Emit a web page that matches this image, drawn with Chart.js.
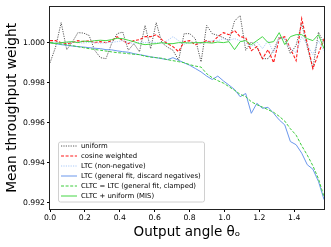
<!DOCTYPE html>
<html><head><meta charset="utf-8">
<script src="https://cdn.jsdelivr.net/npm/chart.js@4.4.1/dist/chart.umd.min.js"></script>
<style>html,body{margin:0;padding:0;background:#fff}canvas{display:block}</style>
</head><body>
<canvas id="c" width="331" height="247" style="width:331px;height:247px"></canvas>
<script>
const angles=[0,0.032,0.064,0.096,0.128,0.160,0.192,0.224,0.256,0.289,0.321,0.353,0.385,0.417,0.449,0.481,0.513,0.545,0.577,0.609,0.641,0.673,0.705,0.737,0.769,0.801,0.833,0.866,0.898,0.930,0.962,0.994,1.026,1.058,1.090,1.122,1.154,1.186,1.218,1.250,1.282,1.314,1.346,1.378,1.411,1.443,1.475,1.507,1.539,1.571];
const uniform=[0.99899,0.99978,1.0010,0.99965,1.00003,1.0005,1.00048,1.00036,0.99962,0.99925,0.9992,0.99995,1.00045,1.00053,0.99962,0.99995,0.99954,1.00086,0.9997,1.0010,1.0,0.99978,0.99962,0.99912,1.00045,1.00045,1.0002,0.99904,1.00086,1.00045,1.00036,1.00025,1.0001,1.00108,1.00136,0.99962,1.00003,0.99978,0.9992,0.9992,0.99962,1.00028,1.0002,0.99945,0.99987,1.00095,0.99978,0.99871,1.00053,0.99995];
const cosineWeighted=[1.0001,1.0001,1.0,0.99995,1.0,1.0001,1.00005,1.0001,1.0,1.00005,1.0,1.0001,1.0003,1.0001,0.99995,1.0001,1.00015,1.0003,1.0003,1.0004,1.00015,0.99995,0.9998,0.99955,1.00005,1.0001,0.9999,1.0,1.0001,1.0,1.0003,1.0005,1.0004,1.0006,1.0003,1.00025,0.9996,0.9998,0.9992,0.99965,0.9990,1.0002,1.0003,0.9997,0.9991,1.0012,0.99995,0.9987,0.99945,1.0002];
const ltcNonNeg=[1.0,1.00002,0.99998,1.0,1.00003,1.0,0.99998,1.00002,1.0,0.99997,1.0,1.00002,1.00005,1.0001,1.0,0.99996,1.00002,1.0,1.00004,1.0,0.99995,1.0001,1.0003,1.0001,0.99992,1.00002,1.0,0.99996,1.00005,1.0001,1.0001,1.0002,1.00012,1.0002,1.0001,1.0,0.9998,1.00005,0.9997,1.0001,0.9995,1.0002,1.0002,0.9997,0.9995,1.0003,0.9999,0.9994,1.0001,0.9996];
const ltcGeneral=[1.0,0.99995,0.9999,0.99987,0.99983,0.9998,0.99978,0.99975,0.99972,0.9997,0.99965,0.99964,0.99959,0.99955,0.99952,0.99945,0.9994,0.99935,0.99929,0.99925,0.9992,0.99915,0.99925,0.99912,0.99899,0.99887,0.99871,0.99854,0.99833,0.99816,0.99833,0.99809,0.99788,0.99766,0.9973,0.99746,0.99647,0.99697,0.99672,0.99677,0.99647,0.99614,0.99589,0.99506,0.9949,0.99448,0.9939,0.99368,0.99307,0.99216];
const cltcClamped=[1.0,0.99997,0.99993,0.9999,0.99985,0.9998,0.99975,0.9997,0.99966,0.99962,0.99958,0.99954,0.9995,0.99948,0.99945,0.99942,0.9994,0.99932,0.99928,0.99925,0.99922,0.99915,0.9991,0.99905,0.999,0.9989,0.99883,0.99878,0.99845,0.99825,0.9981,0.99798,0.9978,0.99762,0.99742,0.9973,0.99705,0.9969,0.99678,0.99665,0.99652,0.99632,0.99608,0.9957,0.99538,0.99485,0.99438,0.99385,0.9932,0.9923];
const cltcMis=[1.0,0.99995,1.0,1.00003,1.00005,1.0,1.00008,1.00005,1.0001,1.00012,1.0001,1.00015,1.00022,1.0002,1.00012,1.00005,0.99995,0.9999,0.99993,0.99995,1.0,0.99995,0.99995,1.0,1.0,0.99998,1.0,1.0,1.0,0.99998,1.00003,1.0,1.00005,0.99965,1.00005,1.0001,0.9999,1.0001,1.0003,1.0,1.00005,1.0005,0.9999,1.0003,1.0004,1.0004,1.0002,1.0001,1.0004,0.9997];
const seriesNames=["uniform","cosine weighted","LTC (non-negative)","LTC (general fit, discard negatives)","CLTC = LTC (general fit, clamped)","CLTC + uniform (MIS)"];
const yTicks=[0.992,0.994,0.996,0.998,1.000];
const xTicks=[0.0,0.2,0.4,0.6,0.8,1.0,1.2,1.4];

const seriesValues=[uniform,cosineWeighted,ltcNonNeg,ltcGeneral,cltcClamped,cltcMis];
const styles=[
 {c:'rgba(60,60,60,0.85)',d:[1.2,1.2],w:1},
 {c:'#ff1a1a',d:[3,1.6],w:1.1},
 {c:'#a9c9f7',d:[1.2,1.2],w:1},
 {c:'#6a97ec',d:[],w:1},
 {c:'#3ccc3c',d:[3,1.6],w:1},
 {c:'#45d645',d:[],w:1}
];
const datasets=seriesValues.map((vals,i)=>({
  label:seriesNames[i],
  data:vals.map((v,j)=>({x:angles[j],y:v})),
  borderColor:styles[i].c,borderDash:styles[i].d,borderWidth:styles[i].w,
  pointRadius:0,tension:0,fill:false,order:6-i
}));
const F='DejaVu Sans';
const framePlugin={id:'frame',afterDraw(ch){
  const a=ch.chartArea,ctx=ch.ctx;ctx.save();
  ctx.strokeStyle='#222';ctx.lineWidth=1;
  ctx.strokeRect(Math.round(a.left)-0.5,Math.round(a.top)-0.5,Math.round(a.right-a.left)+1,Math.round(a.bottom-a.top)+1);
  // legend
  const bx=58,by=141.5,bw=146,bh=60;
  ctx.fillStyle='rgba(255,255,255,0.85)';ctx.strokeStyle='#d0d0d0';ctx.lineWidth=1;
  ctx.beginPath();ctx.roundRect(bx+0.5,by+0.5,bw,bh,2);ctx.fill();ctx.stroke();
  ctx.font='6.9px "'+F+'"';ctx.textBaseline='middle';ctx.fillStyle='#000';
  seriesNames.forEach((n,i)=>{
    const y=by+4.5+i*10;
    ctx.strokeStyle=styles[i].c;ctx.lineWidth=styles[i].w;ctx.setLineDash(styles[i].d);
    ctx.beginPath();ctx.moveTo(61,y);ctx.lineTo(77,y);ctx.stroke();
    ctx.setLineDash([]);ctx.fillStyle='#000';ctx.fillText(n,81,y);
  });
  ctx.restore();
}};
new Chart(document.getElementById('c'),{
  type:'line',
  data:{datasets},
  options:{
    responsive:false,animation:false,devicePixelRatio:1,
    layout:{padding:{left:0,right:7,top:6,bottom:0}},
    plugins:{legend:{display:false},tooltip:{enabled:false}},
    scales:{
      x:{type:'linear',min:0,max:1.5708,
        afterBuildTicks:s=>{s.ticks=xTicks.map(v=>({value:v}));},
        afterFit:s=>{s.height=38;},
        ticks:{callback:v=>v.toFixed(1),font:{family:F,size:7.7},color:'#000',padding:1,maxRotation:0,autoSkip:false},
        grid:{drawOnChartArea:false,drawTicks:true,tickLength:3,color:'#000'},
        border:{display:false},
        title:{display:true,text:'Output angle θₒ',font:{family:F,size:13.5},color:'#000',padding:{top:0,bottom:6}}
      },
      y:{type:'linear',min:0.99169,max:1.0018,
        afterBuildTicks:s=>{s.ticks=yTicks.map(v=>({value:v}));},
        afterFit:s=>{s.width=50;},
        ticks:{callback:v=>v.toFixed(3),font:{family:F,size:7.7},color:'#000',padding:2,autoSkip:false},
        grid:{drawOnChartArea:false,drawTicks:true,tickLength:3,color:'#000'},
        border:{display:false},
        title:{display:true,text:'Mean throughput weight',font:{family:F,size:13.8},color:'#000',padding:{top:4,bottom:0}}
      }
    }
  },
  plugins:[framePlugin]
});
</script>
</body></html>
